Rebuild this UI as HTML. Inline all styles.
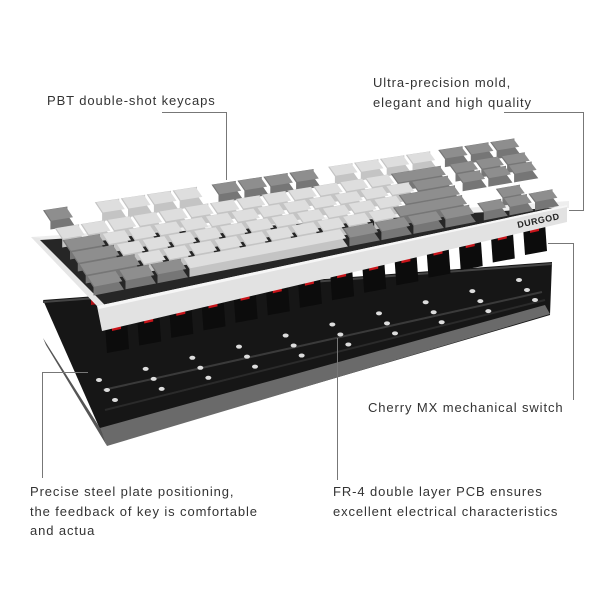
<!DOCTYPE html>
<html><head><meta charset="utf-8"><style>
html,body{margin:0;padding:0;background:#fff;}
#w{position:relative;width:600px;height:600px;overflow:hidden;}
svg{position:absolute;left:0;top:0;}
.t{position:absolute;font-family:"Liberation Sans",sans-serif;font-size:13px;letter-spacing:0.9px;color:#333;white-space:nowrap;line-height:19.5px;}
</style></head><body><div id="w">
<svg id="s" width="600" height="600" viewBox="0 0 600 600">
 <polygon points="43,300 552,262 550,315 107,445" fill="#161616"/>
 <polygon points="100,428 545,305 550,314 107,446" fill="#6a6a6a"/>
 <polygon points="43,338 100,428 107,446 46,345" fill="#555"/>
 <polyline points="103,390 542,292" stroke="#3a3a3a" stroke-width="2" fill="none"/>
 <polyline points="105,410 545,300" stroke="#2a2a2a" stroke-width="2" fill="none"/>
 <polyline points="43,302 552,264" stroke="#444" stroke-width="2" fill="none"/>
 <g id="holes" fill="#ddd"></g>
 <g id="sw"></g>
 <polygon points="31,237 569,201 569,208 40,241" fill="#eee"/>
 <polygon points="31,237 40,238 105,305 97,306" fill="#e6e6e6"/>
 <polygon points="40,240 566,207 567,207 105,305" fill="#262626"/>
 <g id="keys"></g>
 <polygon points="97,306 567,205 567,222 102,331" fill="#e2e2e2"/>
 <polygon points="97,306 567,205 567,207 99,309" fill="#f6f6f6"/>
 <text x="0" y="0" transform="translate(518,228) rotate(-12)" font-family="Liberation Sans,sans-serif" font-size="9" font-weight="bold" fill="#222" letter-spacing="0.5">DURGOD</text>
 <g stroke="#777" stroke-width="1" fill="none">
  <polyline points="162,112.5 226.5,112.5 226.5,180"/>
  <polyline points="504,112.5 583.5,112.5 583.5,210.5 569,210.5"/>
  <polyline points="548,243.5 573.5,243.5 573.5,400"/>
  <polyline points="88,372.5 42.5,372.5 42.5,478"/>
  <polyline points="337.5,338 337.5,480"/>
 </g>
</svg>
<div class="t" style="left:47px;top:91px">PBT double-shot keycaps</div>
<div class="t" style="left:373px;top:73px">Ultra-precision mold,<br>elegant and high quality</div>
<div class="t" style="left:368px;top:398px">Cherry MX mechanical switch</div>
<div class="t" style="left:30px;top:482px">Precise steel plate positioning,<br>the feedback of key is comfortable<br>and actua</div>
<div class="t" style="left:333px;top:482px">FR-4 double layer PCB ensures<br>excellent electrical characteristics</div>
</div>
<script>
var NS="http://www.w3.org/2000/svg";
function poly(g,pts,fill){var p=document.createElementNS(NS,"polygon");p.setAttribute("points",pts.map(function(a){return a[0].toFixed(1)+","+a[1].toFixed(1)}).join(" "));p.setAttribute("fill",fill);g.appendChild(p);}
var A=[42,210],B=[515,138],C=[560,198],D=[93,288];
var U=18.25,V=6.5;
function P(u,v){var s=u/U,t=v/V;
 var x=(1-s)*(1-t)*A[0]+s*(1-t)*B[0]+s*t*C[0]+(1-s)*t*D[0];
 var y=(1-s)*(1-t)*A[1]+s*(1-t)*B[1]+s*t*C[1]+(1-s)*t*D[1];return [x,y];}
var L=["#dedede","#c4c4c4"],Dk=["#8e8e8e","#767676"],G=null;
function rep(n,w,c){var a=[];for(var i=0;i<n;i++)a.push([w,c]);return a;}
var rows=[
 [[1,Dk],[1,G]].concat(rep(4,1,L),[[0.5,G]],rep(4,1,Dk),[[0.5,G]],rep(4,1,L),[[0.25,G]],rep(3,1,Dk)),
 rep(13,1,L).concat([[2,Dk],[0.25,G]],rep(3,1,Dk)),
 [[1.5,Dk]].concat(rep(12,1,L),[[1.5,Dk],[0.25,G]],rep(3,1,Dk)),
 [[1.75,Dk]].concat(rep(11,1,L),[[2.25,Dk],[3.25,G]]),
 [[2.25,Dk]].concat(rep(10,1,L),[[2.75,Dk],[1.25,G],[1,Dk],[1,G]]),
 rep(3,1.25,Dk).concat([[6.25,L]],rep(4,1.25,Dk),[[0.25,G]],rep(3,1,Dk))
];
var kg=document.getElementById("keys");
rows.forEach(function(r,ri){
 var v0=ri==0?0:ri+0.5,v1=v0+1,u=0;
 r.forEach(function(k){
  var w=k[0],c=k[1];
  if(c){var g=0.03,h=8;
   var a=P(u+g,v0+g),b=P(u+w-g,v0+g),cc=P(u+w-g,v1-g),d=P(u+g,v1-g);
   poly(kg,[a,b,[b[0],b[1]+h],[cc[0],cc[1]+h],[d[0],d[1]+h],[d[0],d[1]]],c[1]);
   var a2=P(u+g+0.05,v0+g+0.02),b2=P(u+w-g-0.05,v0+g+0.02),c2=P(u+w-g-0.05,v1-g-0.05),d2=P(u+g+0.05,v1-g-0.05);
   poly(kg,[a2,b2,c2,d2],c[0]);}
  u+=w;});
});
var sg=document.getElementById("sw");
for(var i=0;i<14;i++){var s=i/13;var x=117+s*(535-117),y=333+s*(235-333);
 poly(sg,[[x-12,y-8],[x+10,y-12],[x+12,y+16],[x-10,y+20]],"#0c0c0c");
 poly(sg,[[x-5,y-12],[x+4,y-14],[x+4,y-4],[x-5,y-2]],"#c8141a");}
for(var i=0;i<14;i++){var s=i/13;var x=95+s*(525-95),y=305+s*(222-305);
 poly(sg,[[x-4,y-8],[x+4,y-9],[x+4,y-1],[x-4,y]],"#b01015");}
var hg=document.getElementById("holes");
for(var r=0;r<3;r++)for(var i=0;i<10;i++){var s=i/9;
 var x=115-r*8+s*420,y=400+r*18+s*(-100)-r*28;
 var e=document.createElementNS(NS,"ellipse");e.setAttribute("cx",x);e.setAttribute("cy",y);e.setAttribute("rx",3);e.setAttribute("ry",2);hg.appendChild(e);}
</script>
</body></html>
